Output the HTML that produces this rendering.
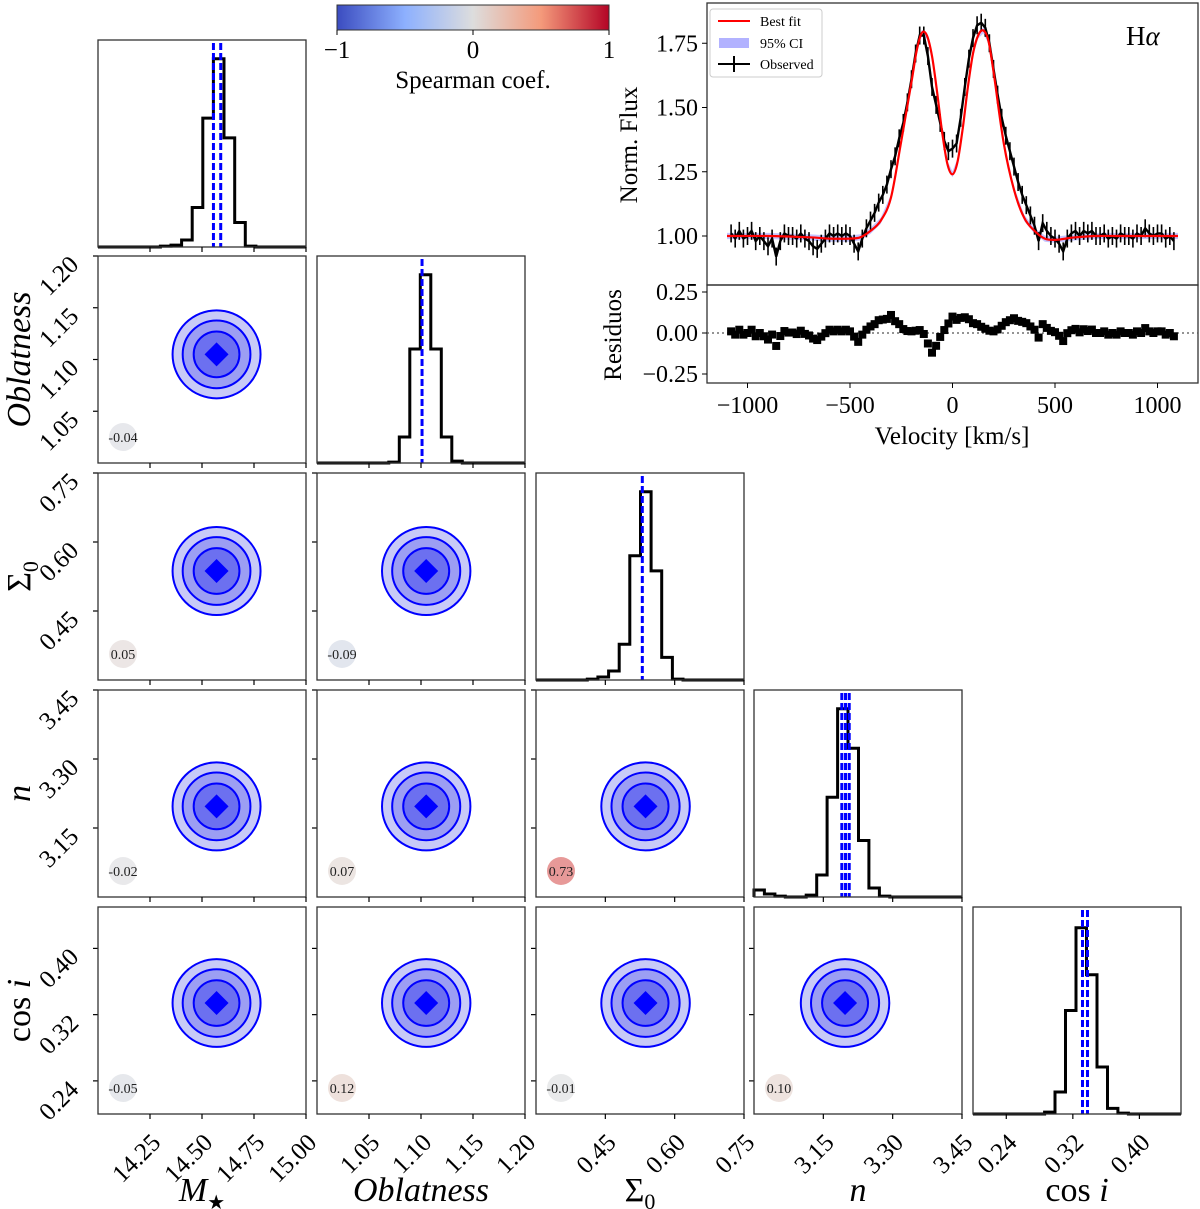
<!DOCTYPE html>
<html><head><meta charset="utf-8">
<style>
html,body{margin:0;padding:0;background:#fff;}
svg{display:block;font-family:"Liberation Serif","DejaVu Serif",serif;}
</style></head>
<body>
<svg id="fig" width="1200" height="1209" viewBox="0 0 1200 1209" xmlns="http://www.w3.org/2000/svg">
<defs>
<linearGradient id="cw" x1="0" x2="1" y1="0" y2="0">
<stop offset="0" stop-color="#3b4cc0"/><stop offset="0.25" stop-color="#8db0fe"/><stop offset="0.5" stop-color="#dddddd"/><stop offset="0.75" stop-color="#f49a7b"/><stop offset="1" stop-color="#b40426"/>
</linearGradient>
</defs>
<g id="corner"></g>
<g id="spec"></g>
<g id="cbar"></g>
</svg>
<script>
// ---------- corner data ----------
const paramNames = ["M", "Oblatness", "Sigma0", "n", "cosi"];
const rangeLo = [14.0, 1.0, 0.30, 3.00, 0.20];
const rangeHi = [15.0, 1.2, 0.75, 3.45, 0.45];
const ticksM = [14.25, 14.50, 14.75, 15.00];
const ticksObl = [1.05, 1.10, 1.15, 1.20];
const ticksSig = [0.45, 0.60, 0.75];
const ticksN = [3.15, 3.30, 3.45];
const ticksCos = [0.24, 0.32, 0.40];
const tickLabelsM = ["14.25", "14.50", "14.75", "15.00"];
const tickLabelsObl = ["1.05", "1.10", "1.15", "1.20"];
const tickLabelsSig = ["0.45", "0.60", "0.75"];
const tickLabelsN = ["3.15", "3.30", "3.45"];
const tickLabelsCos = ["0.24", "0.32", "0.40"];
const histStart = [14.30, 1.069, 0.411, 3.00, 0.286];
const histWidth = [0.051, 0.0101, 0.023, 0.0226, 0.0126];
const histM = [0.005, 0.01, 0.037, 0.21, 0.685, 1.0, 0.58, 0.13, 0.005];
const histObl = [0.005, 0.138, 0.606, 1.0, 0.606, 0.138, 0.01];
const histSig = [0.005, 0.016, 0.048, 0.19, 0.66, 1.0, 0.58, 0.12, 0.005];
const histN = [0.037, 0.016, 0.005, 0, 0, 0.01, 0.117, 0.53, 1.0, 0.79, 0.30, 0.048, 0.005];
const histCos = [0.01, 0.117, 0.55, 0.99, 0.74, 0.25, 0.03, 0.005];
const bestLinesM = [14.555, 14.59];
const bestLinesObl = [1.101];
const bestLinesSig = [0.530];
const bestLinesN = [3.190, 3.198, 3.206];
const bestLinesCos = [0.3316, 0.3376];
const means = [14.57, 1.105, 0.537, 3.197, 0.334];
const spread = [0.2115, 0.0425, 0.0957, 0.0957, 0.053];
const contourLevels = [1.0, 0.77, 0.52];
const corrRow1 = [-0.04];
const corrRow2 = [0.05, -0.09];
const corrRow3 = [-0.02, 0.07, 0.73];
const corrRow4 = [-0.05, 0.12, -0.01, 0.10];

// ---------- spectrum data ----------
const fitV = [-1100,-900,-700,-600,-500,-450,-400,-350,-300,-250,-200,-175,-150,-125,-100,-75,-50,-25,0,25,50,75,100,125,150,175,200,250,300,350,400,450,500,550,600,700,800,900,1100];
const fitF = [1.0,1.0,0.995,0.99,0.99,0.995,1.02,1.06,1.15,1.37,1.60,1.72,1.79,1.78,1.70,1.56,1.40,1.28,1.24,1.29,1.42,1.58,1.71,1.78,1.80,1.76,1.64,1.36,1.18,1.07,1.02,0.99,0.985,0.99,0.995,1.0,1.0,1.0,1.0];
const obsStartV = -1080;
const obsStepV = 20;
const obsF = [1.01,0.99,1.02,0.99,1.00,1.02,0.98,1.00,0.98,0.96,0.99,0.92,0.98,1.01,1.00,1.00,0.99,1.01,0.99,0.98,0.96,0.95,0.97,0.99,1.01,1.00,1.01,1.00,1.01,1.00,
0.97,0.94,0.99,1.03,1.06,1.09,1.13,1.16,1.20,1.26,1.31,1.38,1.44,1.52,1.61,1.71,1.78,1.78,1.70,1.58,1.51,1.44,1.37,1.33,
1.34,1.36,1.46,1.58,1.69,1.77,1.82,1.83,1.81,1.75,1.65,1.55,1.46,1.39,1.33,1.27,1.21,1.16,1.12,1.08,1.04,0.98,1.05,1.02,1.00,0.99,0.97,0.94,0.99,1.01,
1.02,1.00,1.02,1.01,1.02,1.00,1.00,1.01,0.99,1.00,0.99,1.01,1.00,1.00,0.99,1.01,1.00,1.03,1.01,1.00,1.01,1.01,0.99,1.00,0.98];
const obsErr = 0.035;
const fluxTicks = [1.00, 1.25, 1.50, 1.75];
const fluxTickLabels = ["1.00", "1.25", "1.50", "1.75"];
const resTicks = [-0.25, 0.00, 0.25];
const resTickLabels = ["\u22120.25", "0.00", "0.25"];
const velTicks = [-1000, -500, 0, 500, 1000];
const velTickLabels = ["\u22121000", "\u2212500", "0", "500", "1000"];

const NS = "http://www.w3.org/2000/svg";
function mk(parent, tag, attrs) {
  const e = document.createElementNS(NS, tag);
  for (const k in attrs) e.setAttribute(k, attrs[k]);
  parent.appendChild(e);
  return e;
}
function coolwarm(v) {
  const st = [[-1,[59,76,192]],[-0.5,[141,176,254]],[0,[221,221,221]],[0.5,[244,154,123]],[1,[180,4,38]]];
  for (let i = 0; i < st.length - 1; i++) {
    if (v <= st[i+1][0]) {
      const t = (v - st[i][0]) / (st[i+1][0] - st[i][0]);
      const c = st[i][1].map((a, j) => Math.round(a + (st[i+1][1][j] - a) * t));
      return "rgb(" + c.join(",") + ")";
    }
  }
  return "rgb(180,4,38)";
}

// ---------- corner ----------
const corner = document.getElementById("corner");
const colX = [98, 317, 536, 754, 973];
const rowY = [40, 256, 473, 690, 907];
const PW = 208, PH = 207;
const allTicks = [ticksM, ticksObl, ticksSig, ticksN, ticksCos];
const allTickLabels = [tickLabelsM, tickLabelsObl, tickLabelsSig, tickLabelsN, tickLabelsCos];
const allHist = [histM, histObl, histSig, histN, histCos];
const allBest = [bestLinesM, bestLinesObl, bestLinesSig, bestLinesN, bestLinesCos];
const allCorr = [[], corrRow1, corrRow2, corrRow3, corrRow4];
function sx(p, v, col) { return colX[col] + (v - rangeLo[p]) / (rangeHi[p] - rangeLo[p]) * PW; }
function sy(p, v, row) { return rowY[row] + PH - (v - rangeLo[p]) / (rangeHi[p] - rangeLo[p]) * PH; }

const contourFills = ["#c8caf7", "#9c9ef3", "#6c70f0"];
for (let r = 0; r < 5; r++) {
  for (let c = 0; c <= r; c++) {
    const g = mk(corner, "g", {});
    
    
    const x0 = colX[c], y0 = rowY[r];
    if (r === c) {
      const h = allHist[c];
      const base = y0 + PH;
      const scaleH = PH / 1.1;
      let d = "M" + x0 + "," + base + " L" + sx(c, histStart[c], c).toFixed(1) + "," + base;
      for (let i = 0; i < h.length; i++) {
        const xa = sx(c, histStart[c] + i * histWidth[c], c);
        const xb = sx(c, histStart[c] + (i + 1) * histWidth[c], c);
        const yy = base - h[i] * scaleH;
        d += " L" + xa.toFixed(1) + "," + yy.toFixed(1) + " L" + xb.toFixed(1) + "," + yy.toFixed(1);
      }
      d += " L" + sx(c, histStart[c] + h.length * histWidth[c], c).toFixed(1) + "," + base + " L" + (x0 + PW) + "," + base;
      const hp = mk(g, "path", {d: d, fill: "none", stroke: "#000", "stroke-width": 3});
      
      
      allBest[c].forEach(v => {
        const bx = sx(c, v, c);
        const bl = mk(g, "line", {x1: bx, x2: bx, y1: y0 + 3, y2: base, stroke: "#0000ff", "stroke-width": 3, "stroke-dasharray": "7,3"});
        
        
      });
    } else {
      const cx = sx(c, means[c], c), cy = sy(r, means[r], r);
      const rxBase = spread[c] / (rangeHi[c] - rangeLo[c]) * PW;
      const ryBase = spread[r] / (rangeHi[r] - rangeLo[r]) * PH;
      contourLevels.forEach((lv, i) => {
        const el = mk(g, "ellipse", {cx: cx, cy: cy, rx: rxBase * lv, ry: ryBase * lv, fill: contourFills[i], stroke: "#0000ff", "stroke-width": 2});
        
        
      });
      const k = 12;
      const core = mk(g, "polygon", {points: (cx - k) + "," + cy + " " + cx + "," + (cy - k) + " " + (cx + k) + "," + cy + " " + cx + "," + (cy + k), fill: "#0000ff"});
      
      
      const cv = allCorr[r][c];
      const cc = mk(g, "circle", {cx: x0 + 25, cy: y0 + PH - 26, r: 14, fill: coolwarm(cv), "fill-opacity": 0.6});
      
      
      const ct = mk(g, "text", {x: x0 + 25, y: y0 + PH - 21, "text-anchor": "middle", "font-size": 14, fill: "#222"});
      ct.textContent = cv.toFixed(2);
      
      
      allTicks[r].forEach(t => {
        const ty = sy(r, t, r);
        mk(g, "line", {x1: x0 - 5, x2: x0, y1: ty, y2: ty, stroke: "#000", "stroke-width": 1.2});
      });
    }
    const frame = mk(g, "rect", {x: x0, y: y0, width: PW, height: PH, fill: "none", stroke: "#333", "stroke-width": 1.3});
    
    
    allTicks[c].forEach(t => {
      const tx = sx(c, t, c);
      mk(g, "line", {x1: tx, x2: tx, y1: y0 + PH, y2: y0 + PH + 5, stroke: "#000", "stroke-width": 1.2});
    });
    if (c === 0 && r > 0) {
      allTicks[r].forEach((t, i) => {
        const ty = sy(r, t, r);
        const ax = x0 - 18, ay = ty + 10;
        const tl = mk(g, "text", {x: ax, y: ay, "text-anchor": "end", "font-size": 25, transform: "rotate(-45 " + ax + " " + ay + ")"});
        tl.textContent = allTickLabels[r][i];
        
        
      });
    }
    if (r === 4) {
      allTicks[c].forEach((t, i) => {
        const tx = sx(c, t, c) + 12, ty = y0 + PH + 30;
        const tl = mk(g, "text", {x: tx, y: ty, "text-anchor": "end", "font-size": 25, transform: "rotate(-45 " + tx + " " + ty + ")"});
        tl.textContent = allTickLabels[c][i];
        
        
      });
    }
  }
}
const xLab = [
  ['<tspan font-style="italic">M</tspan><tspan font-size="20" dy="8">★</tspan>', 'x-axis-title-mass'],
  ['<tspan font-style="italic">Oblatness</tspan>', 'x-axis-title-oblatness'],
  ['Σ<tspan font-size="22" dy="8">0</tspan>', 'x-axis-title-sigma0'],
  ['<tspan font-style="italic">n</tspan>', 'x-axis-title-n'],
  ['cos <tspan font-style="italic">i</tspan>', 'x-axis-title-cosi']
];
xLab.forEach((l, i) => {
  const t = mk(corner, "text", {x: colX[i] + PW / 2, y: 1201, "text-anchor": "middle", "font-size": 34});
  t.innerHTML = l[0];
  
  
});
[[1, 'y-axis-title-oblatness'], [2, 'y-axis-title-sigma0'], [3, 'y-axis-title-n'], [4, 'y-axis-title-cosi']].forEach(p => {
  const yy = rowY[p[0]] + PH / 2;
  const t = mk(corner, "text", {x: 30, y: yy, "text-anchor": "middle", "font-size": 34, transform: "rotate(-90 30 " + yy + ")"});
  t.innerHTML = xLab[p[0]][0];
  
  
});

// ---------- colorbar ----------
const cb = document.getElementById("cbar");
const cbr = mk(cb, "rect", {x: 337, y: 5, width: 272, height: 25, fill: "url(#cw)", stroke: "#333", "stroke-width": 1});


[[-1, "\u22121"], [0, "0"], [1, "1"]].forEach(p => {
  const x = 473 + p[0] * 136;
  mk(cb, "line", {x1: x, x2: x, y1: 30, y2: 35, stroke: "#000"});
  const t = mk(cb, "text", {x: x, y: 58, "text-anchor": "middle", "font-size": 25});
  t.textContent = p[1];
  
  
});
const cbt = mk(cb, "text", {x: 473, y: 88, "text-anchor": "middle", "font-size": 25});
cbt.textContent = "Spearman coef.";



// ---------- spectrum ----------
const sp = document.getElementById("spec");
const L = 707, R = 1198, T = 3, MID = 285, B = 383;
function vx(v) { return 952.5 + v * 0.205; }
function fy(f) { return 236 - (f - 1) * 257; }
function ry(r) { return 333 - r * 164; }
function fitAt(v) {
  for (let i = 0; i < fitV.length - 1; i++) {
    if (v >= fitV[i] && v <= fitV[i + 1]) {
      const t = (v - fitV[i]) / (fitV[i + 1] - fitV[i]);
      return fitF[i] + t * (fitF[i + 1] - fitF[i]);
    }
  }
  return 1.0;
}
function smoothPath(pts) {
  let d = "M" + pts[0][0].toFixed(1) + "," + pts[0][1].toFixed(1);
  for (let i = 0; i < pts.length - 1; i++) {
    const p0 = pts[Math.max(0, i - 1)], p1 = pts[i], p2 = pts[i + 1], p3 = pts[Math.min(pts.length - 1, i + 2)];
    const c1x = p1[0] + (p2[0] - p0[0]) / 6, c1y = p1[1] + (p2[1] - p0[1]) / 6;
    const c2x = p2[0] - (p3[0] - p1[0]) / 6, c2y = p2[1] - (p3[1] - p1[1]) / 6;
    d += " C" + c1x.toFixed(1) + "," + c1y.toFixed(1) + " " + c2x.toFixed(1) + "," + c2y.toFixed(1) + " " + p2[0].toFixed(1) + "," + p2[1].toFixed(1);
  }
  return d;
}
const clipTop = mk(sp, "clipPath", {id: "clipTop"});
mk(clipTop, "rect", {x: L, y: T, width: R - L, height: MID - T});
const gTop = mk(sp, "g", {"clip-path": "url(#clipTop)"});


const fitPtsHi = fitV.map((v, i) => [vx(v), fy(fitF[i] + 0.012)]);
const fitPtsLo = fitV.map((v, i) => [vx(v), fy(fitF[i] - 0.012)]);
let bandD = fitPtsHi.map((p, i) => (i ? "L" : "M") + p[0].toFixed(1) + "," + p[1].toFixed(1)).join(" ");
bandD += " " + fitPtsLo.slice().reverse().map(p => "L" + p[0].toFixed(1) + "," + p[1].toFixed(1)).join(" ") + " Z";
const band = mk(gTop, "path", {d: bandD, fill: "#7f7fff", "fill-opacity": 0.45});


const obsPts = obsF.map((f, i) => [vx(obsStartV + i * obsStepV), fy(f)]);
const gErr = mk(gTop, "g", {stroke: "#000", "stroke-width": 1.6});


obsF.forEach((f, i) => {
  const x = vx(obsStartV + i * obsStepV);
  mk(gErr, "line", {x1: x, x2: x, y1: fy(f + obsErr), y2: fy(f - obsErr)});
});
const obsLine = mk(gTop, "polyline", {points: obsPts.map(p => p[0].toFixed(1) + "," + p[1].toFixed(1)).join(" "), fill: "none", stroke: "#000", "stroke-width": 2.4});


const fitLine = mk(gTop, "path", {d: smoothPath(fitV.map((v, i) => [vx(v), fy(fitF[i])])), fill: "none", stroke: "#ff0000", "stroke-width": 2.2});


const f1 = mk(sp, "rect", {x: L, y: T, width: R - L, height: MID - T, fill: "none", stroke: "#333", "stroke-width": 1.3});


const f2 = mk(sp, "rect", {x: L, y: MID, width: R - L, height: B - MID, fill: "none", stroke: "#333", "stroke-width": 1.3});


fluxTicks.forEach((t, i) => {
  const y = fy(t);
  mk(sp, "line", {x1: L - 5, x2: L, y1: y, y2: y, stroke: "#000"});
  const tl = mk(sp, "text", {x: L - 9, y: y + 8, "text-anchor": "end", "font-size": 24});
  tl.textContent = fluxTickLabels[i];
  
  
});
resTicks.forEach((t, i) => {
  const y = ry(t);
  mk(sp, "line", {x1: L - 5, x2: L, y1: y, y2: y, stroke: "#000"});
  const tl = mk(sp, "text", {x: L - 9, y: y + 8, "text-anchor": "end", "font-size": 24});
  tl.textContent = resTickLabels[i];
  
  
});
velTicks.forEach((t, i) => {
  const x = vx(t);
  mk(sp, "line", {x1: x, x2: x, y1: B, y2: B + 5, stroke: "#000"});
  const tl = mk(sp, "text", {x: x, y: B + 30, "text-anchor": "middle", "font-size": 24});
  tl.textContent = velTickLabels[i];
  
  
});
const zl = mk(sp, "line", {x1: L, x2: R, y1: ry(0), y2: ry(0), stroke: "#555", "stroke-width": 1.3, "stroke-dasharray": "2,3"});


const gRes = mk(sp, "g", {fill: "#000"});


obsF.forEach((f, i) => {
  const v = obsStartV + i * obsStepV;
  const r = f - fitAt(v);
  mk(gRes, "rect", {x: vx(v) - 4, y: ry(r) - 4, width: 8, height: 8});
});
const ylab1 = mk(sp, "text", {x: 637, y: 145, "text-anchor": "middle", "font-size": 25, transform: "rotate(-90 637 145)"});
ylab1.textContent = "Norm. Flux";


const ylab2 = mk(sp, "text", {x: 621, y: 335, "text-anchor": "middle", "font-size": 25, transform: "rotate(-90 621 335)"});
ylab2.textContent = "Residuos";


const xlab = mk(sp, "text", {x: 952, y: 444, "text-anchor": "middle", "font-size": 25});
xlab.textContent = "Velocity [km/s]";


const ha = mk(sp, "text", {x: 1126, y: 45, "font-size": 27});
ha.innerHTML = 'H<tspan font-style="italic">α</tspan>';


const lg = mk(sp, "g", {});


mk(lg, "rect", {x: 710, y: 9, width: 112, height: 68, rx: 3, fill: "#fff", "fill-opacity": 0.85, stroke: "#ccc"});
mk(lg, "line", {x1: 718, x2: 750, y1: 21, y2: 21, stroke: "#ff0000", "stroke-width": 2});
mk(lg, "rect", {x: 719, y: 38, width: 30, height: 10, fill: "#7f7fff", "fill-opacity": 0.6});
mk(lg, "line", {x1: 718, x2: 750, y1: 64, y2: 64, stroke: "#000", "stroke-width": 2});
mk(lg, "line", {x1: 734, x2: 734, y1: 56, y2: 72, stroke: "#000", "stroke-width": 2});
[["Best fit", 26, 'legend-entry-best-fit'], ["95% CI", 48, 'legend-entry-ci'], ["Observed", 69, 'legend-entry-observed']].forEach(p => {
  const t = mk(lg, "text", {x: 760, y: p[1], "font-size": 14});
  t.textContent = p[0];
  
  
});
</script>
</body></html>
